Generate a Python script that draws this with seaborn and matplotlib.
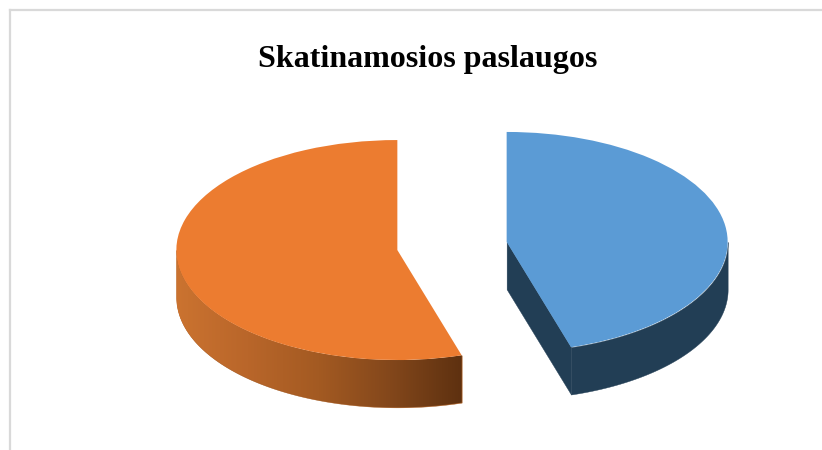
import numpy as np
import matplotlib
matplotlib.use('Agg')
import matplotlib.pyplot as plt
import seaborn as sns

title = 'Skatinamosios paslaugos'
labels = ['Taip', 'Ne']
shares = [45.3, 54.7]
top_colors = ['#5b9bd5', '#ec7c30']

sns.set_style('white')
plt.rcParams['font.family'] = ['Liberation Serif', 'DejaVu Serif']

fig = plt.figure(figsize=(8.22, 4.5), dpi=100)

# grey frame, only top and left are inside the picture
frame = fig.add_axes([9.5 / 822, 0, 1 - 9.5 / 822 + 0.01, 1 - 10 / 450])
frame.set_xticks([])
frame.set_yticks([])
for side in ['right', 'bottom']:
    frame.spines[side].set_visible(False)
for side in ['top', 'left']:
    frame.spines[side].set_color('#d9d9d9')
    frame.spines[side].set_linewidth(1.6)

ax = fig.add_axes([0, 0, 1, 1])
ax.patch.set_alpha(0)
wedges, _ = ax.pie(shares, colors=top_colors, startangle=90, counterclock=False,
                   explode=[0.25, 0.25], labels=None, wedgeprops={'linewidth': 0, 'zorder': 3})

depth = 0.43


def rim(wedge, angle):
    cx, cy = wedge.center
    return cx + np.cos(np.radians(angle)), cy + np.sin(np.radians(angle))


def side_band(wedge, a0, a1, color):
    x, y = rim(wedge, np.linspace(a0, a1, 200))
    return ax.fill_between(x, y, y - depth, color=color, linewidth=0.3, zorder=1)


blue, orange = wedges
cut = blue.theta1

# blue slice: cut face and outer rim
cx, cy = blue.center
tx, ty = rim(blue, cut)
ax.fill_between([cx, tx], [cy, ty], [cy - depth, ty - depth], color='#223e55', linewidth=0.3, zorder=2)
side_band(blue, cut, 0, '#223e55')

# orange slice: rim gets darker towards the cut
band = side_band(orange, -180, cut, '#a35a22')
x0 = rim(orange, -180)[0]
x1 = rim(orange, cut)[0]
shade = sns.blend_palette(['#cb7330', '#b9662a', '#a35a22', '#83471b', '#5e3110'], as_cmap=True)
img = ax.imshow(np.linspace(0, 1, 256).reshape(1, -1), cmap=shade, aspect='auto', extent=[x0, x1, -2, 0],
                interpolation='bilinear', zorder=2)
img.set_clip_path(band.get_paths()[0], transform=ax.transData)

# unequal axis scales squash the circle, so the pie looks tilted
ax.set_aspect('auto')
ax.set_xlim(-452 / 221, 370 / 221)
ax.set_ylim(-204 / 110, 246 / 110)
ax.axis('off')

fig.text(428 / 822, 1 - 59 / 450, title, ha='center', va='center', fontsize=23, fontweight='bold', color='black')

fig.savefig('out.png', dpi=100)
